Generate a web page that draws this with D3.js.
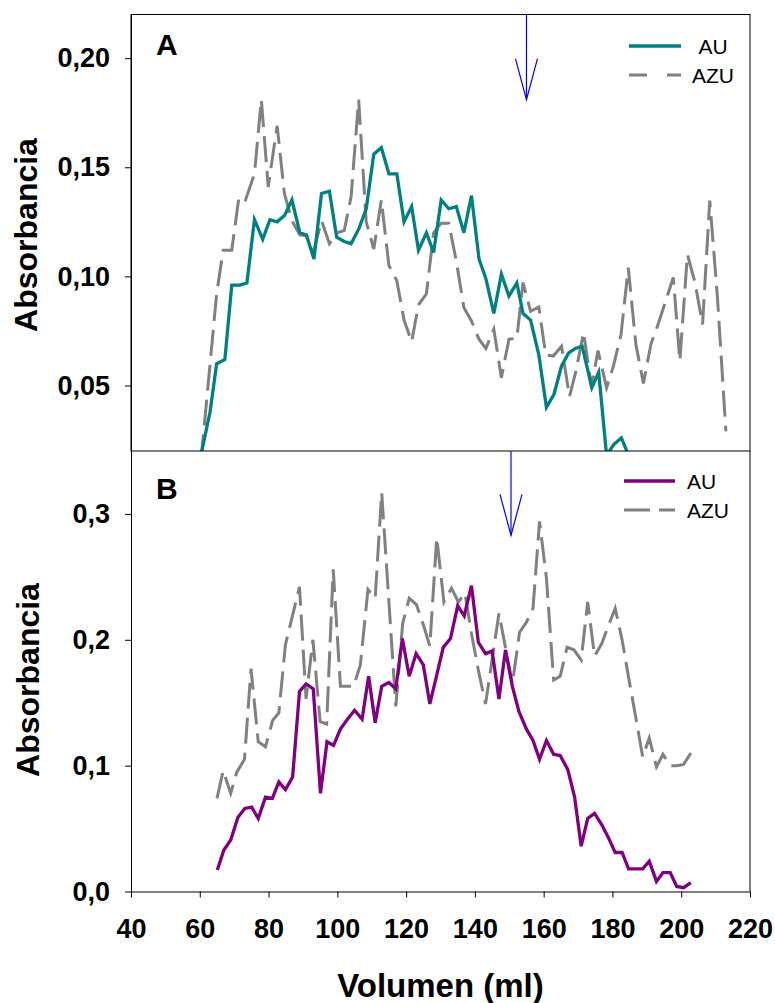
<!DOCTYPE html>
<html>
<head>
<meta charset="utf-8">
<script src="https://cdn.jsdelivr.net/npm/d3@7"></script>
<style>
  body { margin: 0; background: #fff; }
  svg { display: block; font-family: "Liberation Sans", Arial, sans-serif; }
  .axis text { font-size: 27px; font-weight: bold; fill: #000; }
  .axis path, .axis line { stroke: #000; stroke-width: 1; }
</style>
</head>
<body>
<div id="chart"></div>
<script>
const width = 775, height = 1003;

// panel A (AU teal / AZU grey)
const aAuVol = [59, 63.0, 64.9, 67.3, 69.3, 71.7, 73.7, 75.9, 78.3, 80.4, 82.5, 84.7, 86.8, 89.1, 91.0, 93.2, 95.4, 97.7, 99.8, 102.0,
  104.0, 106.3, 108.4, 110.6, 112.8, 115.0, 117.3, 119.4, 121.6, 123.6, 125.9, 128.0, 130.2, 132.4, 134.6, 136.8, 139.0, 141.2, 143.2, 145.5,
  147.7, 149.9, 152.2, 154.0, 156.2, 158.6, 160.8, 163.0, 165.2, 167.3, 169.2, 171.2, 174.0, 176.0, 178.3, 180.4, 182.6, 184.7, 187];
const aAuAbs = [0.008, 0.038, 0.060, 0.062, 0.096, 0.096, 0.097, 0.126, 0.117, 0.126, 0.125, 0.128, 0.135, 0.120, 0.119, 0.108, 0.138, 0.139, 0.118, 0.116,
  0.115, 0.122, 0.131, 0.156, 0.159, 0.147, 0.147, 0.125, 0.132, 0.112, 0.120, 0.111, 0.135, 0.131, 0.132, 0.120, 0.137, 0.108, 0.099, 0.083,
  0.101, 0.091, 0.097, 0.083, 0.080, 0.064, 0.040, 0.046, 0.059, 0.065, 0.067, 0.068, 0.049, 0.056, 0.018, 0.023, 0.026, 0.018, 0.010];

const aAzuVol = [58.3, 60.5, 64.9, 66.8, 69.3, 71.4, 73.3, 75.9, 77.9, 79.9, 82.5, 84.6, 86.8, 89.1, 91.0, 93.2, 95.4, 97.7, 99.8, 102.0,
  104.0, 106.2, 108.4, 110.6, 112.8, 115.0, 117.3, 119.4, 121.6, 123.6, 125.9, 128.0, 130.2, 132.4, 134.6, 136.8, 139.0, 141.2, 143.2, 145.5,
  147.7, 149.9, 152.2, 154.0, 156.2, 158.6, 160.6, 162.8, 165.2, 167.5, 169.4, 171.6, 173.9, 175.8, 178.3, 180.3, 182.5, 184.6, 186.8, 189.0,
  191.2, 193.1, 195.5, 197.7, 199.6, 201.8, 204.0, 206.2, 208.3, 210.5, 213.0];
const aAzuAbs = [0.000, 0.018, 0.092, 0.112, 0.112, 0.1365, 0.135, 0.147, 0.181, 0.141, 0.169, 0.138, 0.1255, 0.119, 0.1186, 0.112, 0.1255, 0.115, 0.120, 0.121,
  0.1365, 0.181, 0.125, 0.1125, 0.135, 0.105, 0.098, 0.080, 0.070, 0.087, 0.092, 0.120, 0.1244, 0.1244, 0.107, 0.0857, 0.0796, 0.0712, 0.067, 0.0758,
  0.0536, 0.0712, 0.0717, 0.0972, 0.084, 0.086, 0.064, 0.0635, 0.068, 0.0449, 0.0567, 0.0743, 0.0495, 0.066, 0.049, 0.059, 0.0735, 0.104, 0.069, 0.051,
  0.069, 0.0773, 0.0888, 0.0995, 0.0613, 0.110, 0.0972, 0.078, 0.1347, 0.0911, 0.029];

// panel B (AU purple / AZU grey)
const bAuVol = [65.1, 67.0, 69.0, 71.1, 73.1, 75.1, 77.0, 79.1, 81.1, 83.0, 84.9, 87.0, 89.0, 90.9, 93.0, 95.1, 97.0, 98.9, 100.9, 103.0,
  105.0, 107.2, 109.1, 111.0, 112.9, 115.0, 117.0, 118.9, 120.9, 122.9, 125.0, 126.9, 128.9, 130.8, 132.9, 135.0, 136.9, 139.0, 141.0, 143.1,
  145.0, 147.0, 148.9, 150.9, 152.8, 155.0, 156.9, 158.8, 160.8, 162.9, 164.8, 167.0, 169.0, 170.9, 172.8, 174.8, 176.9, 178.8, 180.8, 182.8,
  184.7, 186.8, 188.8, 190.7, 192.8, 194.7, 196.8, 198.7, 200.7, 202.8];
const bAuAbs = [0.017, 0.033, 0.041, 0.059, 0.066, 0.067, 0.058, 0.075, 0.074, 0.087, 0.081, 0.091, 0.159, 0.165, 0.161, 0.078, 0.119, 0.116, 0.129, 0.137,
  0.144, 0.137, 0.171, 0.134, 0.163, 0.166, 0.161, 0.201, 0.171, 0.189, 0.180, 0.149, 0.172, 0.194, 0.201, 0.227, 0.219, 0.243, 0.198, 0.189,
  0.191, 0.153, 0.192, 0.163, 0.143, 0.129, 0.120, 0.105, 0.120, 0.109, 0.108, 0.097, 0.075, 0.036, 0.058, 0.062, 0.053, 0.043, 0.031, 0.031,
  0.018, 0.018, 0.018, 0.024, 0.008, 0.015, 0.015, 0.004, 0.003, 0.007];

const bAzuVol = [65.0, 66.8, 69.0, 70.8, 73.0, 74.9, 77.0, 79.1, 81.2, 83.0, 84.9, 89.0, 90.9, 92.9, 95.0, 96.9, 98.8, 100.9, 102.8, 104.7,
  106.7, 108.9, 111.0, 112.9, 117.0, 119.0, 120.9, 123.0, 125.0, 126.9, 128.9, 131.0, 133.2, 135.2, 137.1, 139.0, 141.0, 143.1, 147.0, 150.9,
  153.0, 155.0, 156.9, 158.8, 160.8, 162.9, 164.8, 166.8, 168.8, 170.9, 172.8, 174.8, 176.9, 178.8, 180.8, 182.8, 184.7, 186.8, 188.8, 190.7,
  192.8, 194.7, 196.8, 198.6, 200.7, 202.8];
const bAzuAbs = [0.074, 0.096, 0.078, 0.095, 0.105, 0.177, 0.119, 0.115, 0.136, 0.142, 0.196, 0.242, 0.153, 0.200, 0.135, 0.133, 0.256, 0.163, 0.163, 0.163,
  0.180, 0.240, 0.233, 0.317, 0.147, 0.213, 0.233, 0.228, 0.212, 0.195, 0.281, 0.230, 0.241, 0.230, 0.237, 0.205, 0.176, 0.149, 0.221, 0.165,
  0.206, 0.214, 0.225, 0.294, 0.249, 0.168, 0.171, 0.194, 0.192, 0.184, 0.230, 0.187, 0.197, 0.211, 0.225, 0.200, 0.170, 0.138, 0.107, 0.122,
  0.099, 0.109, 0.100, 0.100, 0.101, 0.110];

const xTicks = [40, 60, 80, 100, 120, 140, 160, 180, 200, 220];
const aTicks = [0.05, 0.10, 0.15, 0.20];
const bTicks = [0.0, 0.1, 0.2, 0.3];
const seriesNames = ["AU", "AZU"];

// arrows (elution marks)
const arrowA = {vol: 155, tip: 0.181};
const arrowB = {vol: 150.5, tip: 0.283};

const teal = "#008080", purple = "#800080", grey = "#808080", blue = "#0000ff";

const svg = d3.select("#chart").append("svg")
  .attr("width", width).attr("height", height);

const xScale = d3.scaleLinear().domain([40, 220]).range([131, 750]);
const yA = d3.scaleLinear().domain([0.02, 0.22]).range([451, 14.5]);
const yB = d3.scaleLinear().domain([0, 0.35]).range([891.5, 451]);

const comma = f => d => d3.format(f)(d).replace(".", ",");

svg.append("clipPath").attr("id", "clipA")
  .append("rect")
  .attr("x", xScale(40)).attr("y", yA(0.22))
  .attr("width", xScale(220) - xScale(40)).attr("height", yA(0.02) - yA(0.22));

function drawLine(yScale, vols, vals, color, dashed, clip) {
  const pts = vols.map((v, i) => [v, vals[i]]);
  const line = d3.line().x(d => xScale(d[0])).y(d => yScale(d[1]));
  const p = svg.append("path")
    .datum(pts)
    .attr("d", line)
    .attr("fill", "none")
    .attr("stroke", color)
    .attr("stroke-width", dashed ? 3 : 3.3)
    .attr("stroke-linejoin", "miter");
  if (dashed) p.attr("stroke-dasharray", "26,9");
  if (clip) p.attr("clip-path", "url(#clipA)");
}

// ---- panel A ----
drawLine(yA, aAzuVol, aAzuAbs, grey, true, true);
drawLine(yA, aAuVol, aAuAbs, teal, false, true);

svg.append("rect")
  .attr("x", xScale(40)).attr("y", yA(0.22))
  .attr("width", xScale(220) - xScale(40)).attr("height", yA(0.02) - yA(0.22))
  .attr("fill", "none").attr("stroke", "#000").attr("stroke-width", 1);

svg.append("g")
  .attr("class", "axis")
  .attr("transform", "translate(" + xScale(40) + ",0)")
  .call(d3.axisLeft(yA).tickValues(aTicks).tickFormat(comma(".2f")).tickSize(6).tickSizeOuter(0).tickPadding(15));

// ---- panel B ----
drawLine(yB, bAzuVol, bAzuAbs, grey, true, false);
drawLine(yB, bAuVol, bAuAbs, purple, false, false);

svg.append("line")
  .attr("x1", xScale(220)).attr("x2", xScale(220))
  .attr("y1", yB(0.35)).attr("y2", yB(0))
  .attr("stroke", "#000");

svg.append("g")
  .attr("class", "axis")
  .attr("transform", "translate(" + xScale(40) + ",0)")
  .call(d3.axisLeft(yB).tickValues(bTicks).tickFormat(comma(".1f")).tickSize(6).tickSizeOuter(0).tickPadding(15));

svg.append("g")
  .attr("class", "axis")
  .attr("transform", "translate(0," + yB(0) + ")")
  .call(d3.axisBottom(xScale).tickValues(xTicks).tickFormat(d3.format("d")).tickSize(6).tickSizeOuter(0).tickPadding(21));

// arrows
function arrow(a, yScale, topY) {
  const x = xScale(a.vol), tip = yScale(a.tip);
  const g = svg.append("g").attr("stroke", blue).attr("stroke-width", 1.2).attr("fill", "none");
  g.append("line").attr("x1", x).attr("x2", x).attr("y1", topY).attr("y2", tip);
  g.append("path").attr("d", "M" + (x - 11) + "," + (tip - 41) + "L" + x + "," + tip + "L" + (x + 11) + "," + (tip - 41));
}
arrow(arrowA, yA, yA(0.22));
arrow(arrowB, yB, yB(0.35));

// panel letters
svg.append("text").attr("x", 156).attr("y", 55)
  .attr("font-size", 30).attr("font-weight", "bold").text("A");
svg.append("text").attr("x", 156).attr("y", 499)
  .attr("font-size", 30).attr("font-weight", "bold").text("B");

// legends
function legend(x1, x2, y1, y2, color, dashA, textX, anchor, base1, base2) {
  svg.append("line").attr("x1", x1).attr("x2", x2).attr("y1", y1).attr("y2", y1)
    .attr("stroke", color).attr("stroke-width", 3.3);
  svg.append("line").attr("x1", x1).attr("x2", x2).attr("y1", y2).attr("y2", y2)
    .attr("stroke", grey).attr("stroke-width", 3).attr("stroke-dasharray", dashA);
  svg.append("text").attr("x", textX).attr("y", base1).attr("text-anchor", anchor)
    .attr("font-size", 21).text(seriesNames[0]);
  svg.append("text").attr("x", textX).attr("y", base2).attr("text-anchor", anchor)
    .attr("font-size", 21).text(seriesNames[1]);
}
legend(629, 681, 46, 75, teal, "18,20", 713, "middle", 54, 83);
legend(624, 675, 481, 510, purple, "26,9", 687, "start", 489, 518);

// axis titles
svg.append("text")
  .attr("transform", "translate(37,235) rotate(-90)")
  .attr("text-anchor", "middle").attr("font-size", 32).attr("font-weight", "bold")
  .text("Absorbancia");
svg.append("text")
  .attr("transform", "translate(39,680) rotate(-90)")
  .attr("text-anchor", "middle").attr("font-size", 32).attr("font-weight", "bold")
  .text("Absorbancia");
svg.append("text")
  .attr("x", (xScale(40) + xScale(220)) / 2).attr("y", 997)
  .attr("text-anchor", "middle").attr("font-size", 33).attr("font-weight", "bold")
  .text("Volumen (ml)");
</script>
</body>
</html>
